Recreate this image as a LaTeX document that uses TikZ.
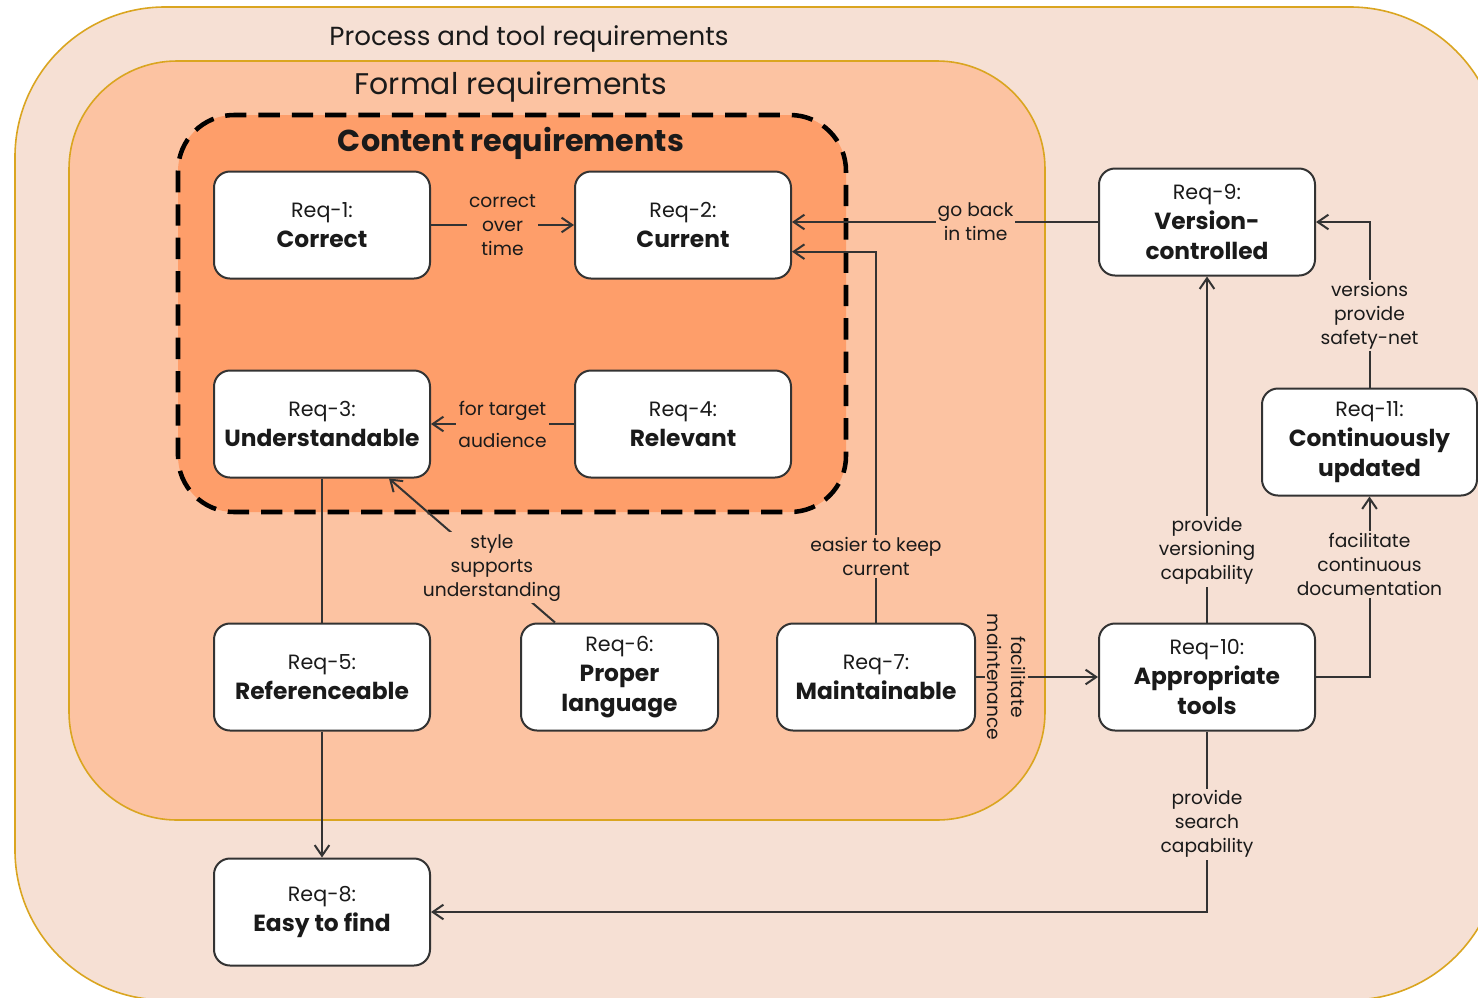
\documentclass[tikz,border=0pt]{standalone}
\usepackage{fontspec}
\setmainfont{Poppins}
\usetikzlibrary{arrows.meta}

\definecolor{processfill}{RGB}{246,224,212}
\definecolor{formalfill}{RGB}{252,195,162}
\definecolor{contentfill}{RGB}{254,158,106}
\definecolor{frameline}{RGB}{218,165,32}
\definecolor{boxline}{RGB}{51,51,51}
\definecolor{inktext}{RGB}{26,26,26}

\tikzset{
  req/.style={draw=boxline, line width=1.5pt, fill=white, rounded corners=12pt,
    minimum width=162pt, minimum height=80.25pt, align=center, inner sep=2pt,
    text=inktext, font=\fontsize{17.5}{22.5}\selectfont\bfseries},
  link/.style={draw=boxline, line width=1.5pt, -{Straight Barb[length=8pt,width=11pt]}},
  lbl/.style={font=\fontsize{14}{18}\selectfont, align=center, inner sep=1.5pt, text=inktext},
}
\newcommand{\reqno}[1]{{\mdseries\fontsize{15.5}{22.5}\selectfont #1}}

\begin{document}
\begin{tikzpicture}[x=0.75pt,y=0.75pt,yscale=-1,xscale=1]
\useasboundingbox (0,0) rectangle (1478,997);

%Regions
\draw [draw=frameline, line width=1.2pt, fill=processfill, rounded corners=112.5pt] (15,7) rectangle (1500,1000) ;
\draw [draw=frameline, line width=1.2pt, fill=formalfill, rounded corners=81pt] (69,61) rectangle (1045,820) ;
\draw [line width=3.4pt, dash pattern=on 16pt off 9pt, fill=contentfill, rounded corners=42pt] (178,115) rectangle (846,512) ;

% Titles
\node (ttlprocess) at (529,39) [text=inktext, font=\fontsize{19.6}{22}\selectfont] {Process and tool requirements};
\node (ttlformal) at (511,87) [text=inktext, font=\fontsize{22.4}{26}\selectfont] {Formal requirements};
\node (ttlcontent) at (511,143) [text=inktext, font=\fontsize{22.7}{26}\selectfont\bfseries] {Content requirements};

% Requirements
\node (r1) at (322,225) [req] {\reqno{Req-1:}\\Correct};
\node (r2) at (683,225) [req] {\reqno{Req-2:}\\Current};
\node (r3) at (322,424) [req] {\reqno{Req-3:}\\Understandable};
\node (r4) at (683,424) [req] {\reqno{Req-4:}\\Relevant};
\node (r5) at (322,677) [req] {\reqno{Req-5:}\\Referenceable};
\node (r6) at (619.5,677) [req, minimum width=147.75pt] {\reqno{Req-6:}\\Proper\\language};
\node (r7) at (876,677) [req, minimum width=148.5pt] {\reqno{Req-7:}\\Maintainable};
\node (r8) at (322,912) [req] {\reqno{Req-8:}\\Easy to find};
\node (r9) at (1207,222) [req] {\reqno{Req-9:}\\Version-\\controlled};
\node (r10) at (1207,677) [req] {\reqno{Req-10:}\\Appropriate\\tools};
\node (r11) at (1369.5,442) [req, minimum width=161.25pt] {\reqno{Req-11:}\\Continuously\\updated};

% Free ends
\coordinate (r2low) at ([yshift=20pt]r2.east);
\coordinate (r6tip) at ([xshift=26.25pt]r6.north west);
\coordinate (r3tip) at ([xshift=-31.5pt]r3.south east);

% Connectors
\draw [link] (r1) -- node [lbl, fill=contentfill] {correct\\over\\time} (r2) ;
\draw [link] (r9.west) -- node [lbl, fill=formalfill, pos=0.4] {go back\\in time} (r9.west -| r2.east) ;
\draw [link] (r7.north) |- node [lbl, fill=formalfill, pos=0.089] {easier to keep\\current} (r2low) ;
\draw [link] (r4) -- node [lbl, fill=contentfill, font=\fontsize{14}{24}\selectfont] {for target\\audience} (r3) ;
\draw [link] (r6tip) -- node [lbl, fill=formalfill, pos=0.38] {style\\supports\\understanding} (r3tip) ;
\draw [draw=boxline, line width=1.5pt] (r3) -- (r5) ;
\draw [link] (r5) -- (r8) ;
\draw [link] (r7) -- node [lbl, fill=formalfill, rotate=-90, pos=0.25] {facilitate\\maintenance} (r10) ;
\draw [link] (r10) -- node [lbl, fill=processfill, pos=0.206] {provide\\versioning\\capability} (r9) ;
\draw [link] (r10.south) |- node [lbl, fill=processfill, pos=0.257] {provide\\search\\capability} (r8.east) ;
\draw [link] (r10.east) -| node [lbl, fill=processfill, pos=0.812] {facilitate\\continuous\\documentation} (r11.south) ;
\draw [link] (r11.north) |- node [lbl, fill=processfill, pos=0.217] {versions\\provide\\safety-net} (r9.east) ;

\end{tikzpicture}
\end{document}
